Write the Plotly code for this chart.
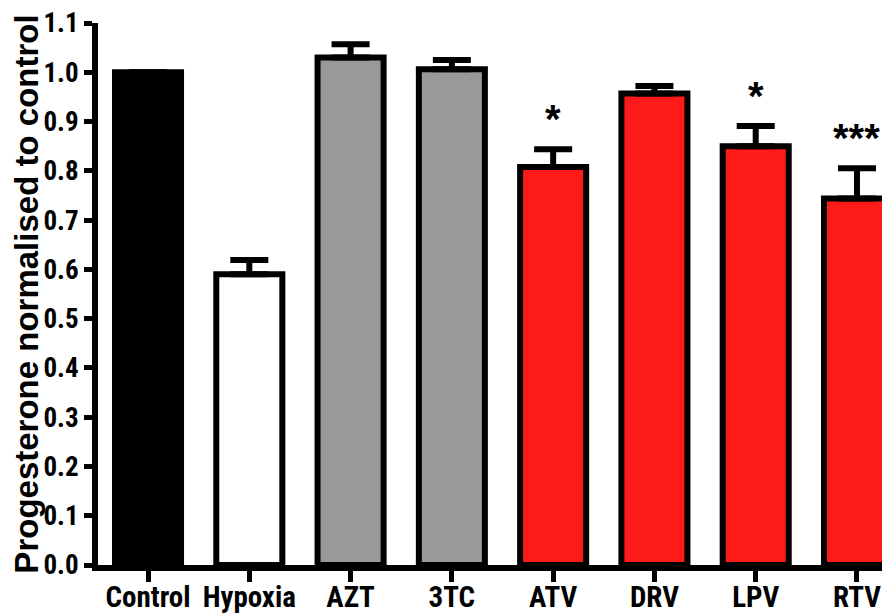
import plotly.graph_objects as go
import numpy as np

categories = ["Control", "Hypoxia", "AZT", "3TC", "ATV", "DRV", "LPV", "RTV"]
values = [1.0, 0.59, 1.03, 1.006, 0.808, 0.957, 0.85, 0.744]
errors = [np.nan, 0.029, 0.027, 0.019, 0.036, 0.015, 0.041, 0.061]
colors = ["#000000", "#FFFFFF", "#999999", "#999999", "#FF1A1A", "#FF1A1A", "#FF1A1A", "#FF1A1A"]
stars = {"ATV": "*", "LPV": "*", "RTV": "***"}
y_ticks = [round(0.1 * i, 1) for i in range(12)]

NARROW = "Roboto Condensed, Open Sans Condensed, Liberation Sans, sans-serif"
SANS = "Liberation Sans, Arial, sans-serif"

fig = go.Figure()
fig.add_trace(go.Bar(
    x=categories, y=values,
    width=0.652,
    marker=dict(color=colors, line=dict(color="black", width=6)),
    error_y=dict(type="data", symmetric=False, array=errors,
                 arrayminus=[0] * len(values), color="black",
                 thickness=6, width=19),
))

for cat, s in stars.items():
    i = categories.index(cat)
    fig.add_annotation(x=cat, y=values[i] + errors[i], text=s, showarrow=False,
                       yanchor="middle", yshift=30,
                       font=dict(family=SANS, size=40, color="black", weight="bold"))

# the page adds an 8px body margin, so the figure is 8px smaller than the window
fig.update_layout(
    width=882, height=607,
    margin=dict(l=90, r=0, t=15, b=50),
    paper_bgcolor="white", plot_bgcolor="white",
    showlegend=False,
)
fig.update_xaxes(
    type="category", range=[-0.494, 7.326], automargin=False, tickangle=0,
    showline=True, linewidth=6, linecolor="black",
    ticks="outside", ticklen=11, tickwidth=5, tickcolor="black",
    ticklabelstandoff=-10, ticklabeloverflow="allow",
    tickfont=dict(family=NARROW, size=29, color="black", weight="bold"),
    showgrid=False, zeroline=False,
)
fig.update_yaxes(
    range=[0, 1.1], tickvals=y_ticks, tickformat=".1f", automargin=False,
    ticklabeloverflow="allow",
    showline=True, linewidth=6, linecolor="black",
    ticks="outside", ticklen=8, tickwidth=5, tickcolor="black",
    tickfont=dict(family=NARROW, size=27, color="black", weight="bold"),
    showgrid=False, zeroline=False,
    title=dict(text="Progesterone normalised to control", standoff=9,
               font=dict(family=SANS, size=33, color="black", weight="bold")),
)

fig.write_html("out.html")
